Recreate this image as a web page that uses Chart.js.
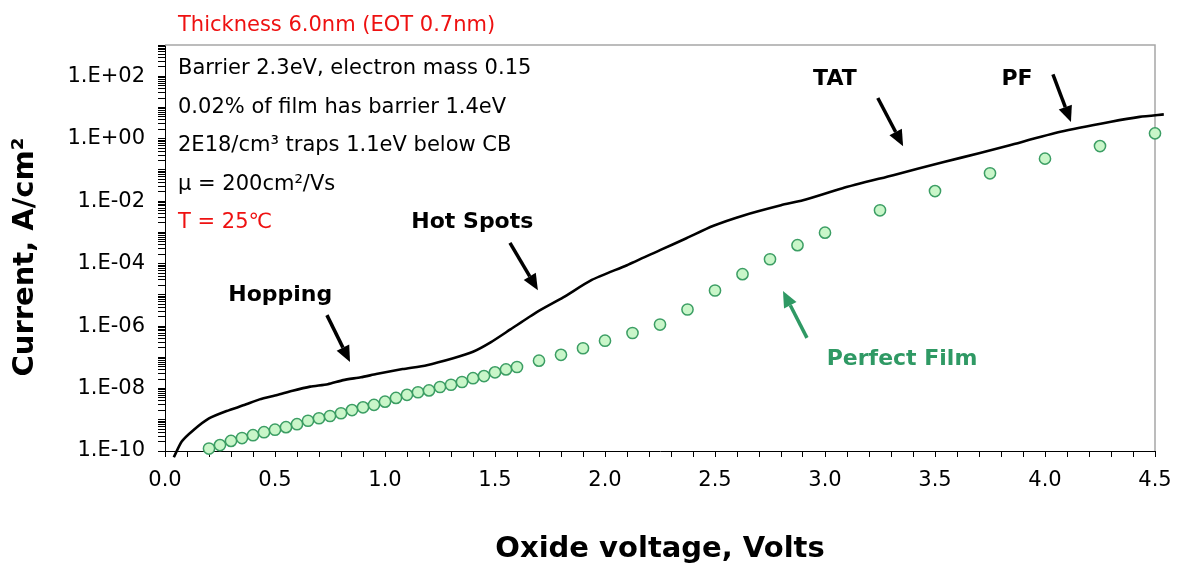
<!DOCTYPE html>
<html>
<head>
<meta charset="utf-8">
<title>Current vs oxide voltage</title>
<script src="https://cdn.jsdelivr.net/npm/chart.js@4.4.1/dist/chart.umd.min.js"></script>
<style>
  html, body { margin: 0; padding: 0; background: #fff; }
  #wrap { width: 1178px; height: 563px; }
</style>
</head>
<body>
<div id="wrap"><canvas id="ivChart" width="1178" height="563"></canvas></div>
<script>
// full simulation: hopping + hot spots + TAT + PF
const totalVolts = [0.04, 0.076, 0.13, 0.20, 0.28, 0.36, 0.43, 0.51, 0.58, 0.66, 0.74, 0.81, 0.89, 0.96,
  1.08, 1.19, 1.31, 1.40, 1.48, 1.57, 1.69, 1.81, 1.94, 2.10, 2.25, 2.37, 2.49, 2.63, 2.80, 2.90,
  3.08, 3.31, 3.54, 3.70, 3.84, 4.07, 4.30, 4.43, 4.54];
const totalCurrent = [6.3e-11, 2.0e-10, 4.7e-10, 1.1e-9, 1.9e-9, 2.95e-9, 4.5e-9, 6.2e-9, 8.5e-9, 1.15e-8, 1.38e-8, 1.86e-8, 2.3e-8, 2.9e-8,
  4.2e-8, 5.6e-8, 9.3e-8, 1.5e-7, 3.0e-7, 7.8e-7, 2.8e-6, 8.3e-6, 3.0e-5, 8.9e-5, 2.7e-4, 6.5e-4, 1.6e-3, 3.5e-3, 7.4e-3, 1.07e-2,
  2.6e-2, 6.8e-2, 0.18, 0.34, 0.62, 1.66, 3.5, 5.0, 6.0];

// perfect film (no defects)
const filmVolts = [0.20, 0.25, 0.30, 0.35, 0.40, 0.45, 0.50, 0.55, 0.60, 0.65, 0.70, 0.75, 0.80, 0.85, 0.90, 0.95,
  1.00, 1.05, 1.10, 1.15, 1.20, 1.25, 1.30, 1.35, 1.40, 1.45, 1.50, 1.55, 1.60, 1.70, 1.80, 1.90,
  2.00, 2.125, 2.25, 2.375, 2.50, 2.625, 2.75, 2.875, 3.00, 3.25, 3.50, 3.75, 4.00, 4.25, 4.50];
const filmCurrent = [1.2e-10, 1.55e-10, 2.1e-10, 2.6e-10, 3.2e-10, 4.0e-10, 4.8e-10, 5.8e-10, 7.2e-10, 9.3e-10, 1.12e-9, 1.32e-9, 1.62e-9, 2.04e-9, 2.5e-9, 3.0e-9,
  3.8e-9, 5.0e-9, 6.3e-9, 7.6e-9, 8.7e-9, 1.12e-8, 1.32e-8, 1.62e-8, 2.14e-8, 2.5e-8, 3.3e-8, 4.1e-8, 4.9e-8, 7.8e-8, 1.2e-7, 1.95e-7,
  3.4e-7, 6.0e-7, 1.12e-6, 3.4e-6, 1.38e-5, 4.6e-5, 1.38e-4, 3.9e-4, 9.8e-4, 5.1e-3, 2.1e-2, 7.8e-2, 0.23, 0.58, 1.48];

// axis ticks
const xLabelValues = [0, 0.5, 1.0, 1.5, 2.0, 2.5, 3.0, 3.5, 4.0, 4.5];
const xTickLabels = ['0.0', '0.5', '1.0', '1.5', '2.0', '2.5', '3.0', '3.5', '4.0', '4.5'];
const yLabelValues = [1e-10, 1e-8, 1e-6, 1e-4, 1e-2, 1e0, 1e2];
const yTickLabels = ['1.E-10', '1.E-08', '1.E-06', '1.E-04', '1.E-02', '1.E+00', '1.E+02'];

// mechanism labels (centre x in volts, baseline in A/cm2)
const markNames = ['Hopping', 'Hot Spots', 'TAT', 'PF', 'Perfect Film'];
const markVolts = [0.524, 1.397, 3.045, 3.873, 3.35];
const markCurrent = [6.3e-6, 1.37e-3, 51.5, 51.5, 5.65e-8];
// arrows: tail -> tip
const arrowTailVolts = [0.736, 1.568, 3.24, 4.036, 2.918];
const arrowTailCurrent = [2.24e-6, 4.6e-4, 20, 115, 4.2e-7];
const arrowTipVolts = [0.841, 1.695, 3.355, 4.118, 2.809];
const arrowTipCurrent = [7.1e-8, 1.41e-5, 0.575, 3.4, 1.32e-5];

const modelNotes = ['Barrier 2.3eV, electron mass 0.15', '0.02% of film has barrier 1.4eV',
  '2E18/cm³ traps 1.1eV below CB', 'μ = 200cm²/Vs', 'T = 25℃'];

const FONT = '"DejaVu Sans", "Liberation Sans", Arial, sans-serif';
const RED = '#ee1111';
const GREEN = '#2f9964';

function drawArrow(ctx, x1, y1, x2, y2, color) {
    const ang = Math.atan2(y2 - y1, x2 - x1);
    const head = 16, half = 7;
    const bx = x2 - head * Math.cos(ang), by = y2 - head * Math.sin(ang);
    ctx.strokeStyle = color;
    ctx.fillStyle = color;
    ctx.lineWidth = 3.5;
    ctx.beginPath();
    ctx.moveTo(x1, y1);
    ctx.lineTo(bx, by);
    ctx.stroke();
    ctx.beginPath();
    ctx.moveTo(x2, y2);
    ctx.lineTo(bx + half * Math.sin(ang), by - half * Math.cos(ang));
    ctx.lineTo(bx - half * Math.sin(ang), by + half * Math.cos(ang));
    ctx.closePath();
    ctx.fill();
}

const decorations = {
    id: 'decorations',
    beforeDatasetsDraw(chart) {
        // grey frame on top and right
        const { ctx, chartArea: a } = chart;
        ctx.save();
        ctx.strokeStyle = '#a6a6a6';
        ctx.lineWidth = 1.5;
        ctx.beginPath();
        ctx.moveTo(a.left, a.top);
        ctx.lineTo(a.right, a.top);
        ctx.lineTo(a.right, a.bottom);
        ctx.stroke();
        ctx.restore();
    },
    afterDraw(chart) {
        const { ctx, chartArea: a, scales: { x, y } } = chart;
        ctx.save();

        // heading and model parameters
        ctx.textAlign = 'left';
        ctx.textBaseline = 'alphabetic';
        ctx.font = `21px ${FONT}`;
        ctx.fillStyle = RED;
        ctx.fillText('Thickness 6.0nm (EOT 0.7nm)', a.left + 13, a.top - 14);
        modelNotes.forEach((line, i) => {
            ctx.fillStyle = i === modelNotes.length - 1 ? RED : '#000';
            ctx.fillText(line, a.left + 13, a.top + 29 + i * 38.5);
        });

        // mechanism labels and arrows
        ctx.textAlign = 'center';
        ctx.font = `bold 22px ${FONT}`;
        markNames.forEach((name, i) => {
            const color = i === markNames.length - 1 ? GREEN : '#000';
            ctx.fillStyle = color;
            ctx.fillText(name, x.getPixelForValue(markVolts[i]), y.getPixelForValue(markCurrent[i]));
            drawArrow(ctx,
                x.getPixelForValue(arrowTailVolts[i]), y.getPixelForValue(arrowTailCurrent[i]),
                x.getPixelForValue(arrowTipVolts[i]), y.getPixelForValue(arrowTipCurrent[i]), color);
        });

        // axis titles
        ctx.fillStyle = '#000';
        ctx.font = `bold 29px ${FONT}`;
        ctx.textAlign = 'center';
        ctx.fillText('Oxide voltage, Volts', (a.left + a.right) / 2, 557);
        ctx.translate(33, (a.top + a.bottom) / 2 + 9);
        ctx.rotate(-Math.PI / 2);
        ctx.fillText('Current, A/cm²', 0, 0);
        ctx.restore();
    }
};

new Chart(document.getElementById('ivChart'), {
    type: 'scatter',
    data: {
        datasets: [
            {
                label: 'Perfect film',
                data: filmVolts.map((v, i) => ({ x: v, y: filmCurrent[i] })),
                showLine: false,
                pointRadius: 5.6,
                pointBorderWidth: 1.5,
                pointBackgroundColor: '#c9f6c9',
                pointBorderColor: '#3c9e64',
                clip: false,
                order: 0
            },
            {
                label: 'Simulation',
                data: totalVolts.map((v, i) => ({ x: v, y: totalCurrent[i] })),
                showLine: true,
                borderColor: '#000',
                borderWidth: 2.6,
                pointRadius: 0,
                tension: 0.2,
                clip: { left: 0, top: 0, right: 10, bottom: 10 },
                order: 1
            }
        ]
    },
    options: {
        responsive: false,
        devicePixelRatio: 1,
        animation: false,
        layout: { padding: { top: 45, right: 23, left: 0, bottom: 0 } },
        plugins: { legend: { display: false }, tooltip: { enabled: false } },
        scales: {
            x: {
                type: 'linear',
                min: 0,
                max: 4.5,
                afterFit(s) {
                    s.height = 112;
                    // labels at the ends fit inside the outer padding
                    s.paddingLeft = 0;
                    s.paddingRight = 0;
                },
                afterBuildTicks(s) {
                    const ticks = [];
                    for (let i = 0; i <= 45; i++) ticks.push({ value: i / 10 });
                    s.ticks = ticks;
                },
                ticks: {
                    autoSkip: false,
                    maxRotation: 0,
                    padding: 11,
                    color: '#000',
                    font: { family: FONT, size: 21 },
                    callback: (v) => {
                        const idx = xLabelValues.findIndex(t => Math.abs(t - v) < 1e-6);
                        return idx >= 0 ? xTickLabels[idx] : '';
                    }
                },
                grid: { drawOnChartArea: false, color: '#000', tickLength: 6, lineWidth: 1 },
                border: { color: '#000', width: 1 }
            },
            y: {
                type: 'logarithmic',
                min: 1e-10,
                max: 1e3,
                afterFit(s) { s.width = 165; },
                afterBuildTicks(s) {
                    const ticks = [];
                    for (let e = -10; e < 3; e++) {
                        for (let m = 1; m <= 9; m++) ticks.push({ value: m * Math.pow(10, e) });
                    }
                    ticks.push({ value: 1e3 });
                    s.ticks = ticks;
                },
                ticks: {
                    autoSkip: false,
                    padding: 13,
                    color: '#000',
                    font: { family: FONT, size: 21 },
                    callback: (v) => {
                        const idx = yLabelValues.findIndex(t => Math.abs(v / t - 1) < 1e-6);
                        return idx >= 0 ? yTickLabels[idx] : '';
                    }
                },
                grid: { drawOnChartArea: false, color: '#000', tickLength: 7, lineWidth: 1 },
                border: { color: '#000', width: 1 }
            }
        }
    },
    plugins: [decorations]
});
</script>
</body>
</html>
